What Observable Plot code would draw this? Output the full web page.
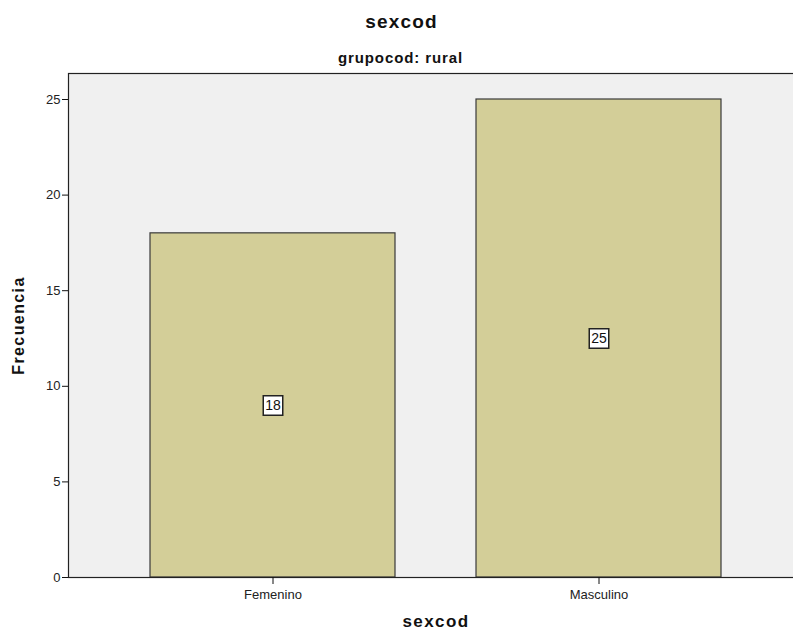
<!DOCTYPE html>
<html>
<head>
<meta charset="utf-8">
<script src="https://cdn.jsdelivr.net/npm/d3@7"></script>
<script src="https://cdn.jsdelivr.net/npm/@observablehq/plot@0.6"></script>
<style>
  html, body { margin: 0; padding: 0; background: #fff; overflow: hidden; }
  #wrap { width: 793px; height: 639px; overflow: hidden; position: relative; font-family: "Liberation Sans", Arial, sans-serif; }
  #head { position: relative; width: 793px; height: 66px; }
  #title { position: absolute; left: 5px; width: 793px; top: 10px; text-align: center; font-weight: bold; font-size: 19px; letter-spacing: 1.2px; line-height: 24px; color: #111; }
  #subtitle { position: absolute; left: 4px; width: 793px; top: 49px; text-align: center; font-weight: bold; font-size: 15px; letter-spacing: 0.9px; line-height: 18px; color: #111; }
  #chart { width: 793px; overflow: hidden; }
  #chart svg { display: block; max-width: none !important; }
  .axlabel { letter-spacing: 1.4px; }
</style>
</head>
<body>
<div id="wrap">
  <div id="head">
    <div id="title">sexcod</div>
    <div id="subtitle">grupocod: rural</div>
  </div>
  <div id="chart"></div>
</div>
<script>
const categories = ["Femenino", "Masculino"];
const counts = [18, 25];
const yTicks = [0, 5, 10, 15, 20, 25];
const xLabel = "sexcod";
const yLabel = "Frecuencia";

const data = categories.map((c, i) => ({sex: c, count: counts[i]}));

const chart = Plot.plot({
  width: 816,
  height: 573,
  marginTop: 7,
  marginBottom: 62,
  marginLeft: 68,
  marginRight: 13,
  style: {fontFamily: "'Liberation Sans', Arial, sans-serif", background: "transparent", maxWidth: "none"},
  x: {domain: categories, padding: 0.25, label: null},
  y: {domain: [0, 26.36], label: null},
  marks: [
    Plot.frame({fill: "#f0f0f0", stroke: "none"}),
    Plot.barY(data, {x: "sex", y: "count", fill: "#d3ce98", stroke: "#3a3a3a", strokeWidth: 1.2}),
    Plot.ruleY([0], {stroke: "#111", strokeWidth: 1.2}),
    Plot.frame({stroke: "#222", strokeWidth: 1.2}),
    Plot.axisY({ticks: yTicks, tickSize: 6, tickPadding: 2, fontSize: 13, fill: "#222", stroke: "#111", label: null}),
    Plot.axisX({tickSize: 7, tickPadding: 5, fontSize: 13, fill: "#222", stroke: "#111", label: null}),
    Plot.dot(data, {x: "sex", y: d => d.count / 2, symbol: "square", r: 11, fill: "white", stroke: "#222", strokeWidth: 1.5}),
    Plot.text(data, {x: "sex", y: d => d.count / 2, text: d => String(d.count), fontSize: 14, fill: "#111"}),
    Plot.text([xLabel], {frameAnchor: "bottom", dy: 49, fontSize: 17, fontWeight: "bold", fill: "#111"}),
    Plot.text([yLabel], {frameAnchor: "left", dx: -50, rotate: -90, textAnchor: "middle", fontSize: 16, fontWeight: "bold", fill: "#111"})
  ]
});
d3.select(chart).selectAll("text").filter(function () {
  const t = this.textContent;
  return t === xLabel || t === yLabel;
}).attr("class", "axlabel");
document.getElementById("chart").appendChild(chart);
</script>
</body>
</html>
